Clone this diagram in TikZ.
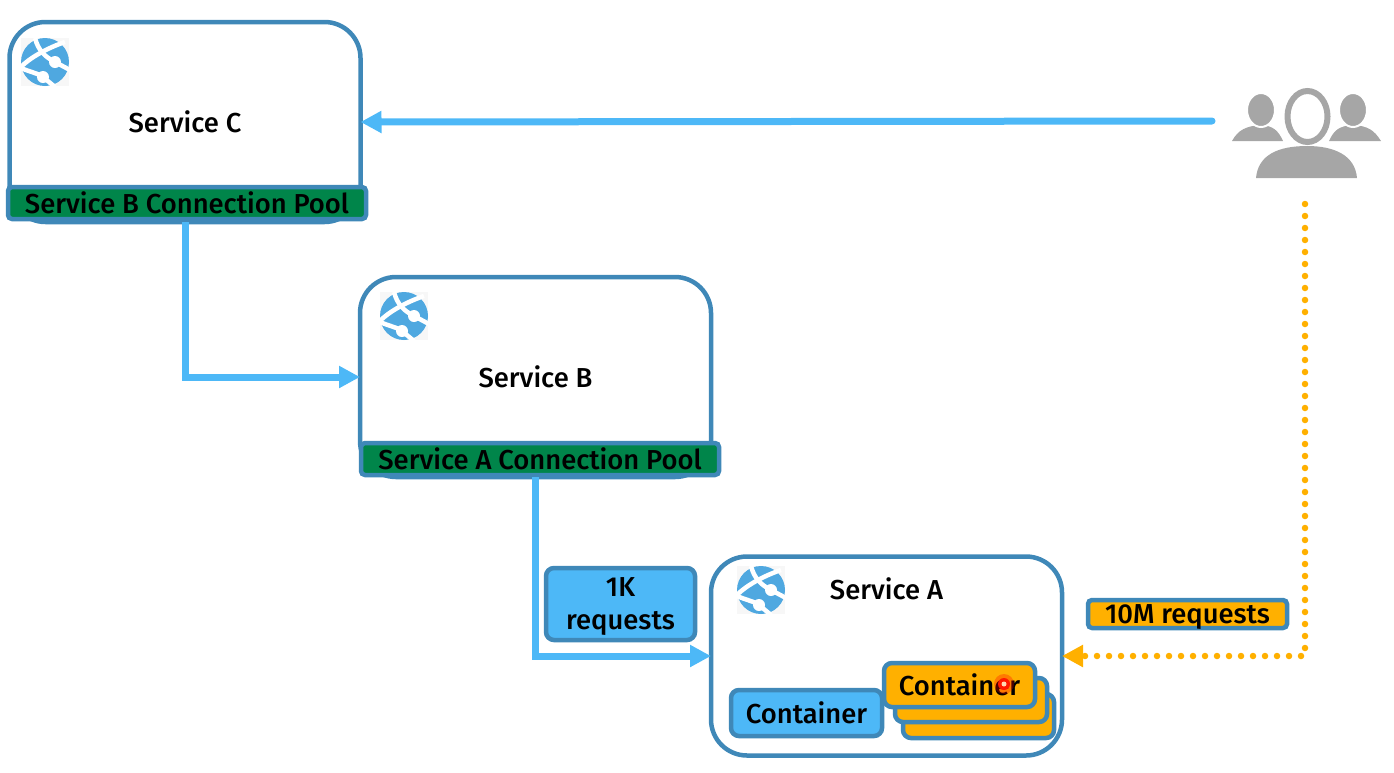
\documentclass[tikz,border=0pt]{standalone}
\usepackage{fontspec}
\setmainfont{Fira Sans}[UprightFont=* Medium]
\usetikzlibrary{arrows.meta,positioning}

\definecolor{edgeblue}{HTML}{3F88B8}
\definecolor{flowblue}{HTML}{4DB8F7}
\definecolor{poolgreen}{HTML}{00854A}
\definecolor{amber}{HTML}{FFB000}
\definecolor{crowdgray}{HTML}{A6A6A6}
\definecolor{globeblue}{HTML}{4FA8E0}

\tikzset{
  labeltext/.style={font=\fontsize{27.4}{31}\selectfont,text=black},
  svc/.style={draw=edgeblue,line width=4.5pt,fill=white,rounded corners=36pt,outer sep=0pt,minimum width=351pt,minimum height=200pt,labeltext},
  pool/.style={draw=edgeblue,line width=4.5pt,fill=poolgreen,rounded corners=4pt,minimum height=32pt,inner sep=0pt,labeltext},
  tag/.style={draw=edgeblue,line width=4.5pt,fill=flowblue,rounded corners=8pt,inner sep=0pt,labeltext},
  box/.style={tag,fill=amber,minimum width=151pt,minimum height=44pt},
  flow/.style={draw=flowblue,line width=7pt,->},
  dotflow/.style={draw=amber,line width=6.5pt,line cap=round,dash pattern=on 0pt off 12pt,->},
  globe/.pic={
    \fill[black!3] (-24,-24) rectangle (24,24);
    \fill[globeblue] (0,0) circle (24);
    \draw[white,line width=4.5pt] (20,-20) .. controls (5,-15) and (-15,-5) .. (-25,6);
    \draw[white,line width=4.5pt] (-10,-24) .. controls (-7,-12) and (0,-5) .. (10,0) -- (25,8);
    \draw[white,line width=4.5pt] (-24,6) .. controls (-15,10) and (-5,12) .. (-2,15) -- (10,25);
    \fill[white] (10,0) circle (6) (-2,15) circle (6);
  },
  crowd/.pic={
    \fill[crowdgray] (-74,26) .. controls (-68,15) and (-60,11) .. (-45,10) .. controls (-33,11) and (-28,15) .. (-23,26) -- cycle;
    \fill[crowdgray] (23,26) .. controls (28,15) and (33,11) .. (47,10) .. controls (62,11) and (68,15) .. (75,26) -- cycle;
    \draw[white,line width=2pt,fill=crowdgray] (-45,-5) ellipse (14 and 17) (47,-5) ellipse (14 and 17);
    \fill[crowdgray] (-50,63) .. controls (-48,40) and (-28,31) .. (1,31) .. controls (28,31) and (49,40) .. (51,63) -- cycle;
    \draw[crowdgray,line width=6pt,fill=white] (1.5,1.5) ellipse (20 and 25.5);
  }
}

\begin{document}
\begin{tikzpicture}[x=1pt,y=-1pt,>={Triangle[length=21pt,width=21pt]},on grid]
  \useasboundingbox (0,0) rectangle (1394,772);

  \node[svc] (svcc) at (185,122) {Service C};
  \node[svc] (svcb) [below right=255pt and 350.5pt of svcc] {Service B};
  \node[svc,minimum height=199pt] (svca) [below right=279pt and 351pt of svcb] {};
  \node[pool,minimum width=358pt] (poolc) [below right=81pt and 2pt of svcc] {Service B Connection Pool};
  \node[pool,minimum width=358pt] (poolb) [below right=82pt and 4.5pt of svcb] {Service A Connection Pool};
  \node[labeltext] (lbla) [above=67pt of svca] {Service A};

  \node[box] (cont3) [below right=60pt and 92pt of svca] {};
  \node[box,minimum width=152pt] (cont2) [below right=44pt and 84.5pt of svca] {};
  \node[box] (cont1) [below right=29pt and 73pt of svca] {Container};
  \node[tag,minimum width=151pt,minimum height=46pt] (cont0) [below left=57pt and 80pt of svca] {Container};
  \fill[red,opacity=.3] (1004,684) circle (10);
  \fill[red!80!orange] (1004,684) circle (6);
  \fill[white!70!orange] (1004,684) circle (2.5);

  \node[tag,minimum width=149pt,minimum height=72pt,align=center] (reqk) at (620.5,604) {\rule{0pt}{24pt}1K\\[2pt]requests};
  \node[tag,fill=amber,rounded corners=4pt,minimum width=199pt,minimum height=28pt,text height=21pt,text depth=3pt] (reqm) at (1187.5,614) {10M requests};

  \pic at (45,62) {globe};
  \pic at (404,316) {globe};
  \pic at (761,590) {globe};
  \pic at (1306,115) {crowd};

  \coordinate (userc) at (1212,121);
  \coordinate (usera) at (1305,204);
  \coordinate (turna) at (1305,656);

  \draw[flow,line cap=round] (userc) -- (svcc.east);
  \draw[flow] (svcc.south) |- (svcb.west);
  \draw[flow] (svcb.south) |- (svca.west);
  \draw[dotflow] (usera) -- (turna) -- (svca.east);
\end{tikzpicture}
\end{document}
